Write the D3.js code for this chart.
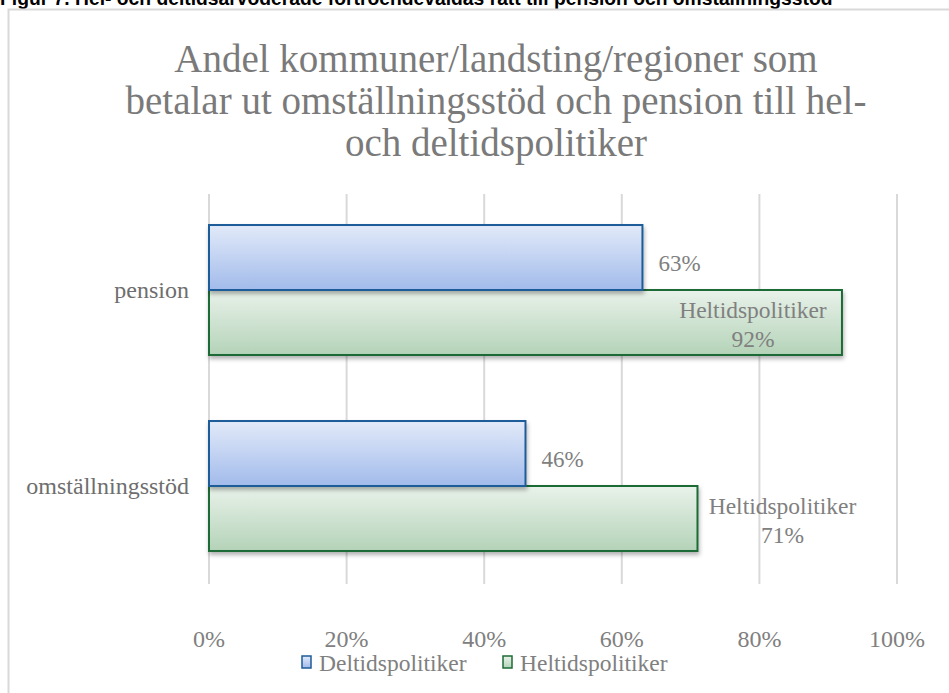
<!DOCTYPE html>
<html>
<head>
<meta charset="utf-8">
<script src="https://cdn.jsdelivr.net/npm/d3@7"></script>
<style>
  body { margin: 0; background: #fff; }
  svg { display: block; }
</style>
</head>
<body>
<svg id="chart" width="949" height="693"></svg>
<script>
const categories = ["pension", "omställningsstöd"];
const seriesNames = ["Deltidspolitiker", "Heltidspolitiker"];
const deltid = [63, 46];
const heltid = [92, 71];
const ticks = [0, 20, 40, 60, 80, 100];
const titleLines = [
  "Andel kommuner/landsting/regioner som",
  "betalar ut omställningsstöd och pension till hel-",
  "och deltidspolitiker"
];
const figCaption = "Figur 7. Hel- och deltidsarvoderade förtroendevaldas rätt till pension och omställningsstöd";

const svg = d3.select("#chart");
const width = +svg.attr("width");
const height = +svg.attr("height");
const serif = "'Liberation Serif', 'Times New Roman', serif";
const grey = "#808080";

const defs = svg.append("defs");
const gradBlue = defs.append("linearGradient").attr("id", "gBlue").attr("x1", 0).attr("y1", 0).attr("x2", 0).attr("y2", 1);
gradBlue.append("stop").attr("offset", "0%").attr("stop-color", "#e2eaf9");
gradBlue.append("stop").attr("offset", "100%").attr("stop-color", "#a2bbeb");
const gradGreen = defs.append("linearGradient").attr("id", "gGreen").attr("x1", 0).attr("y1", 0).attr("x2", 0).attr("y2", 1);
gradGreen.append("stop").attr("offset", "0%").attr("stop-color", "#e9f2ea");
gradGreen.append("stop").attr("offset", "100%").attr("stop-color", "#b4d3b8");
const shadow = defs.append("filter").attr("id", "shadow").attr("x", "-5%").attr("y", "-10%").attr("width", "115%").attr("height", "140%");
shadow.append("feDropShadow").attr("dx", 1).attr("dy", 3).attr("stdDeviation", 2).attr("flood-color", "#000").attr("flood-opacity", 0.3);

// figure caption (cut at top, like the source)
svg.append("text")
  .attr("x", 0).attr("y", 5)
  .attr("font-family", "'Liberation Sans', Arial, sans-serif")
  .attr("font-weight", "bold")
  .attr("font-size", 19.3)
  .attr("fill", "#000")
  .text(figCaption);

// chart frame
svg.append("rect")
  .attr("x", 8.5).attr("y", 9.5)
  .attr("width", width + 20).attr("height", height + 20)
  .attr("fill", "#fff")
  .attr("stroke", "#d9d9d9")
  .attr("stroke-width", 2);

// title
svg.append("g").selectAll("text")
  .data(titleLines)
  .join("text")
  .attr("x", 496)
  .attr("y", (d, i) => 72 + i * 42)
  .attr("text-anchor", "middle")
  .attr("font-family", serif)
  .attr("font-size", 39)
  .attr("fill", "#7a7a7a")
  .text(d => d);

const x = d3.scaleLinear().domain([0, 100]).range([209, 897]);
const y = d3.scaleBand().domain(categories).range([192, 584]);
const inner = d3.scaleBand().domain(seriesNames).range([0, y.bandwidth()]).paddingOuter(0.508).paddingInner(0);

// gridlines
svg.append("g").selectAll("line")
  .data(ticks)
  .join("line")
  .attr("x1", d => x(d)).attr("x2", d => x(d))
  .attr("y1", 194).attr("y2", 584)
  .attr("stroke", "#d9d9d9")
  .attr("stroke-width", 2);

// tick labels
svg.append("g").selectAll("text")
  .data(ticks)
  .join("text")
  .attr("x", d => x(d))
  .attr("y", 647)
  .attr("text-anchor", "middle")
  .attr("font-family", serif)
  .attr("font-size", 24)
  .attr("fill", grey)
  .text(d => d + "%");

// category labels
svg.append("g").selectAll("text")
  .data(categories)
  .join("text")
  .attr("x", 189)
  .attr("y", d => y(d) + y.bandwidth() / 2 + 8)
  .attr("text-anchor", "end")
  .attr("font-family", serif)
  .attr("font-size", 24)
  .attr("fill", "#6e6e6e")
  .text(d => d);

const rows = categories.map((c, i) => ({ cat: c, del: deltid[i], hel: heltid[i] }));

// bars: heltid first so the deltid border sits on top at the join
const bars = svg.append("g");
bars.selectAll("rect.hel")
  .data(rows)
  .join("rect")
  .attr("class", "hel")
  .attr("x", x(0))
  .attr("y", d => y(d.cat) + inner("Heltidspolitiker"))
  .attr("width", d => x(d.hel) - x(0))
  .attr("height", inner.bandwidth())
  .attr("fill", "url(#gGreen)")
  .attr("stroke", "#1d6b34")
  .attr("stroke-width", 2)
  .attr("filter", "url(#shadow)");
bars.selectAll("rect.del")
  .data(rows)
  .join("rect")
  .attr("class", "del")
  .attr("x", x(0))
  .attr("y", d => y(d.cat) + inner("Deltidspolitiker"))
  .attr("width", d => x(d.del) - x(0))
  .attr("height", inner.bandwidth())
  .attr("fill", "url(#gBlue)")
  .attr("stroke", "#1f5c99")
  .attr("stroke-width", 2)
  .attr("filter", "url(#shadow)");

// deltid value labels
svg.append("g").selectAll("text")
  .data(rows)
  .join("text")
  .attr("x", d => x(d.del) + 16)
  .attr("y", d => y(d.cat) + inner("Deltidspolitiker") + inner.bandwidth() / 2 + 13)
  .attr("font-family", serif)
  .attr("font-size", 23)
  .attr("fill", grey)
  .text(d => d.del + "%");

// heltid labels (series name + value): inside the bar when it is long, otherwise after it
const labelX = d => d.hel > 85 ? x(d.hel) - 89 : x(d.hel) + 85;
const hl = svg.append("g").selectAll("text")
  .data(rows)
  .join("text")
  .attr("text-anchor", "middle")
  .attr("font-family", serif)
  .attr("font-size", 23.5)
  .attr("fill", grey);
hl.append("tspan")
  .attr("x", labelX)
  .attr("y", d => y(d.cat) + inner("Heltidspolitiker") + inner.bandwidth() / 2 - 4)
  .text("Heltidspolitiker");
hl.append("tspan")
  .attr("x", labelX)
  .attr("y", d => y(d.cat) + inner("Heltidspolitiker") + inner.bandwidth() / 2 + 25)
  .text(d => d.hel + "%");

// legend
const legend = svg.append("g");
const legendItems = [
  { name: "Deltidspolitiker", fill: "url(#gBlue)", stroke: "#1f5c99", x: 302 },
  { name: "Heltidspolitiker", fill: "url(#gGreen)", stroke: "#1d6b34", x: 503 }
];
const li = legend.selectAll("g").data(legendItems).join("g")
  .attr("transform", d => `translate(${d.x},656)`);
li.append("rect")
  .attr("width", 9).attr("height", 12)
  .attr("fill", d => d.fill)
  .attr("stroke", d => d.stroke)
  .attr("stroke-width", 1.5);
li.append("text")
  .attr("x", 17).attr("y", 15)
  .attr("font-family", serif)
  .attr("font-size", 23.5)
  .attr("fill", grey)
  .text(d => d.name);
</script>
</body>
</html>
